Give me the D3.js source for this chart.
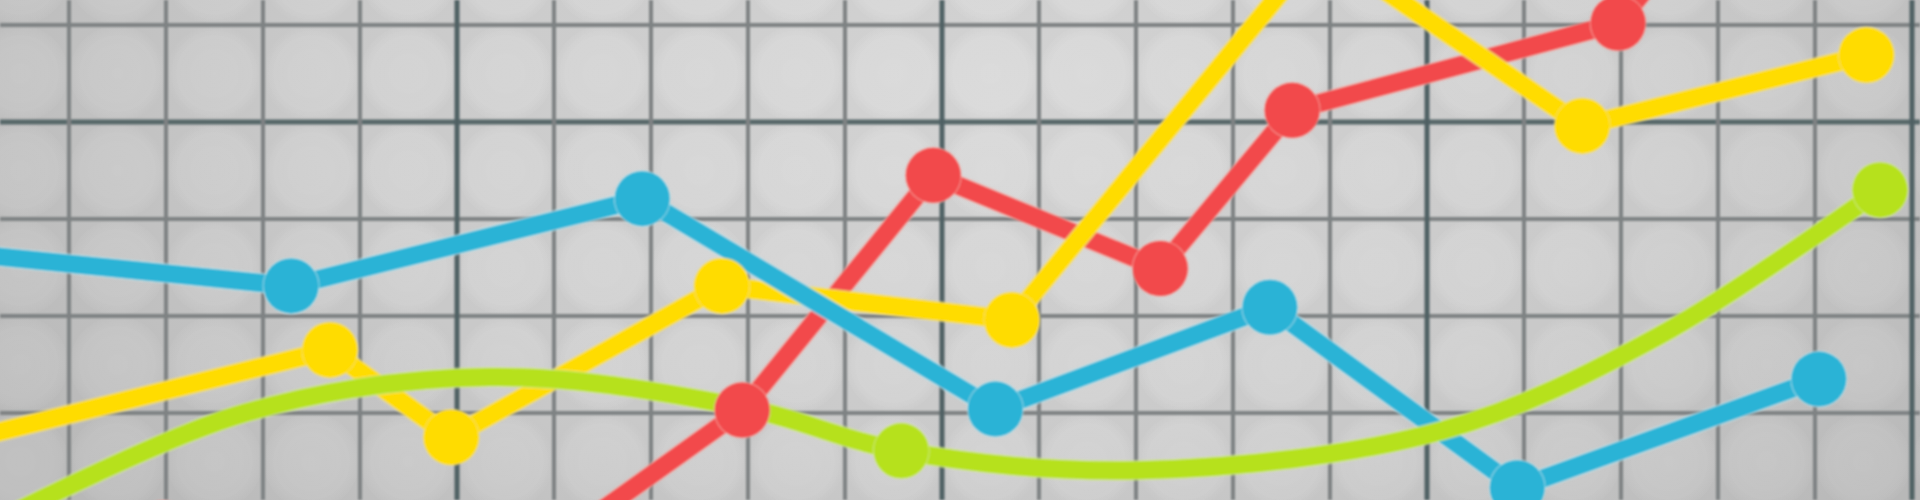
<!DOCTYPE html>
<html>
<head>
<meta charset="utf-8">
<script src="https://cdn.jsdelivr.net/npm/d3@7"></script>
<style>
  html, body { margin: 0; padding: 0; background: #cfcfcf; overflow: hidden; }
  svg { display: block; }
</style>
</head>
<body>
<svg id="chart" width="1920" height="500"></svg>
<script>
// ---- data (grid units on x, values on y) ----
const xGrid = [0,1,2,3,4,5,6,7,8,9,10,11,12,13,14,15,16,17,18,19,20];
const yGrid = [0,10,20,30,40,50];
const xMajor = [0,5,10,15,20];
const yMajor = [40];

const blueX = [-1.0, 3.29, 6.91, 10.55, 13.38, 15.93, 19.04];
const blueY = [27.4, 23.1, 32.1, 10.4, 20.9, 2.3, 13.5];

const redX = [1.97, 6.06, 7.94, 9.91, 12.25, 13.61, 16.97, 17.5];
const redY = [-1.9, -3.1, 10.3, 34.5, 24.9, 41.2, 50.2, 56.7];

const yellowX = [-1.0, 3.69, 4.94, 7.73, 10.72, 13.89, 16.6, 19.53];
const yellowY = [4.9, 16.5, 7.5, 23.1, 19.6, 58.2, 39.6, 46.9];

const greenX = [-0.12, 2.81, 5.34, 7.94, 9.58, 12.04, 15.16, 17.4, 19.67];
const greenY = [-3.1, 10.0, 13.7, 10.6, 6.1, 4.1, 8.2, 18.0, 33.0];
const greenMarkers = [4, 8];

// ---- setup ----
const W = 1920, H = 500;
const svg = d3.select("#chart");
const x = d3.scaleLinear().domain([0, 20]).range([-28, 1912]);
const y = d3.scaleLinear().domain([0, 50]).range([510, 25]);

const defs = svg.append("defs");
const bg = defs.append("radialGradient").attr("id", "bg")
  .attr("gradientUnits", "userSpaceOnUse")
  .attr("cx", 1000).attr("cy", 100).attr("r", 1150)
  .attr("gradientTransform", "translate(1000,100) scale(1,0.55) translate(-1000,-100)");
bg.append("stop").attr("offset", "0%").attr("stop-color", "#dadada");
bg.append("stop").attr("offset", "55%").attr("stop-color", "#d1d1d1");
bg.append("stop").attr("offset", "100%").attr("stop-color", "#bebebe");

const cellG = defs.append("radialGradient").attr("id", "cell");
cellG.append("stop").attr("offset", "0%").attr("stop-color", "#fff").attr("stop-opacity", 0.05);
cellG.append("stop").attr("offset", "75%").attr("stop-color", "#fff").attr("stop-opacity", 0.02);
cellG.append("stop").attr("offset", "100%").attr("stop-color", "#000").attr("stop-opacity", 0.03);

const cw = x(1) - x(0), ch = y(0) - y(10);
const pat = defs.append("pattern").attr("id", "cells")
  .attr("patternUnits", "userSpaceOnUse")
  .attr("x", x(0)).attr("y", y(50))
  .attr("width", cw).attr("height", ch);
pat.append("rect").attr("width", cw).attr("height", ch).attr("fill", "url(#cell)");

const blur = defs.append("filter").attr("id", "soft")
  .attr("x", "-5%").attr("y", "-5%").attr("width", "110%").attr("height", "110%");
blur.append("feGaussianBlur").attr("stdDeviation", 0.9);

const blurGrid = defs.append("filter").attr("id", "softgrid");
blurGrid.append("feGaussianBlur").attr("stdDeviation", 0.8);

svg.append("rect").attr("width", W).attr("height", H).attr("fill", "url(#bg)");
svg.append("rect").attr("width", W).attr("height", H).attr("fill", "url(#cells)");

// ---- grid ----
const grid = svg.append("g").attr("filter", "url(#softgrid)");
grid.selectAll(".h").data(yGrid).join("line")
  .attr("x1", 0).attr("x2", W)
  .attr("y1", d => y(d)).attr("y2", d => y(d))
  .attr("stroke", d => yMajor.includes(d) ? "#566769" : "#7e8283")
  .attr("stroke-width", d => yMajor.includes(d) ? 5 : 4);
grid.selectAll(".v").data(xGrid).join("line")
  .attr("y1", 0).attr("y2", H)
  .attr("x1", d => x(d)).attr("x2", d => x(d))
  .attr("stroke", d => xMajor.includes(d) ? "#4f6163" : "#7e8283")
  .attr("stroke-width", d => xMajor.includes(d) ? 5 : 4);

// ---- series ----
const series = [
  { name: "red",    xs: redX,    ys: redY,    color: "#f24a4c", halo: "#f6b2ab", curve: d3.curveLinear, markers: null, w: 18 },
  { name: "yellow", xs: yellowX, ys: yellowY, color: "#ffdc04", halo: "#f2e08a", curve: d3.curveLinear, markers: null, w: 18 },
  { name: "blue",   xs: blueX,   ys: blueY,   color: "#2bb3d6", halo: "#bfe5ee", curve: d3.curveLinear, markers: null, w: 18 },
  { name: "green",  xs: greenX,  ys: greenY,  color: "#b6e11f", halo: "#d6ea9c", curve: d3.curveCatmullRom.alpha(0.5), markers: greenMarkers, w: 18 }
];

const plot = svg.append("g").attr("filter", "url(#soft)");
const lineLayer = plot.append("g");
const markLayer = plot.append("g");

series.forEach(s => {
  const pts = s.xs.map((v, i) => [v, s.ys[i]]);
  const line = d3.line().x(d => x(d[0])).y(d => y(d[1])).curve(s.curve);
  lineLayer.append("path").attr("d", line(pts)).attr("fill", "none")
    .attr("stroke", s.halo).attr("stroke-width", s.w + 2.5)
    .attr("stroke-linejoin", "round").attr("stroke-linecap", "round").attr("opacity", 0.7);
  lineLayer.append("path").attr("d", line(pts)).attr("fill", "none")
    .attr("stroke", s.color).attr("stroke-width", s.w)
    .attr("stroke-linejoin", "round").attr("stroke-linecap", "round");
});

series.forEach(s => {
  const pts = s.xs.map((v, i) => [v, s.ys[i]]);
  const mk = s.markers ? s.markers.map(i => pts[i]) : pts;
  const g = markLayer.append("g");
  g.selectAll(".halo").data(mk).join("circle")
    .attr("cx", d => x(d[0])).attr("cy", d => y(d[1])).attr("r", 28.5)
    .attr("fill", s.halo).attr("opacity", 0.7);
  g.selectAll(".dot").data(mk).join("circle")
    .attr("cx", d => x(d[0])).attr("cy", d => y(d[1])).attr("r", 27.5)
    .attr("fill", s.color);
});
</script>
</body>
</html>
